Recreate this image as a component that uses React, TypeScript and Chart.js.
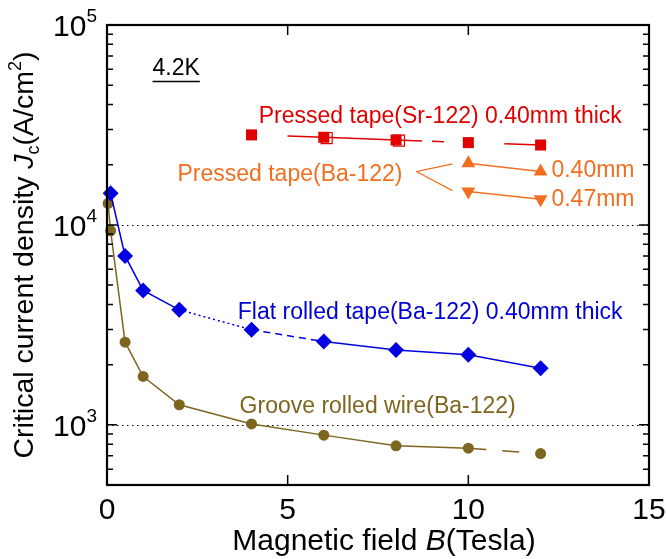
import { useEffect, useRef } from 'react';
import { Chart, registerables } from 'chart.js';
Chart.register(...registerables);

// ---- data (B in Tesla, Jc in A/cm^2) ----
const flatB = [0.1, 0.5, 1, 2, 4, 6, 8, 10, 12];
const flatJc = [14400, 7000, 4700, 3760, 2990, 2610, 2370, 2240, 1920];

const grooveB = [0.03, 0.1, 0.5, 1, 2, 4, 6, 8, 10, 12];
const grooveJc = [12800, 9350, 2590, 1745, 1260, 1010, 888, 785, 764, 718];

const srB = [4, 6, 8, 10, 12];
const srJc = [28200, 27450, 26600, 25800, 25100];
const srOpenB = [6.08, 8.08];
const srOpenJc = [27200, 26400];

const ba040B = [10, 12];
const ba040Jc = [20350, 18490];
const ba047B = [10, 12];
const ba047Jc = [14680, 13440];

// leader lines from the "Pressed tape(Ba-122)" label
const leaderB = [8.56, 9.56];
const leaderUpJc = [18480, 20180];
const leaderDownJc = [18480, 14840];

// axis ticks
const xTickValues = [0, 5, 10, 15];
const xTickLabels = ['0', '5', '10', '15'];
const yTickValues = [1000, 10000, 100000];
const yTickExps = ['3', '4', '5'];
const yGridValues = [1000, 10000];

// in-plot text annotations (positions in data units)
const noteTexts = [
  'Pressed tape(Sr-122) 0.40mm thick',
  'Pressed tape(Ba-122)',
  '0.40mm',
  '0.47mm',
  'Flat rolled tape(Ba-122) 0.40mm thick',
  'Groove rolled wire(Ba-122)',
];
const noteB = [4.2, 1.95, 12.3, 12.3, 3.62, 3.67];
const noteJc = [34670, 17780, 18620, 13410, 3651, 1237];
const noteColors = ['#e00000', '#f07020', '#f07020', '#f07020', '#0000d8', '#7d6620'];

const tempText = '4.2K';
const tempB = 1.26;
const tempJc = 60260;

const RED = '#e00000';
const ORANGE = '#f07020';
const BLUE = '#0000e0';
const OLIVE = '#7d6620';
const FONT = '"Liberation Sans", Arial, Helvetica, sans-serif';

type Part = { text: string; font: string; dy?: number };
function drawRich(ctx: CanvasRenderingContext2D, parts: Part[], x: number, y: number, align: 'left' | 'center' | 'right') {
  let total = 0;
  for (const p of parts) {
    ctx.font = p.font;
    total += ctx.measureText(p.text).width;
  }
  let cx = align === 'center' ? x - total / 2 : align === 'right' ? x - total : x;
  ctx.textAlign = 'left';
  ctx.textBaseline = 'alphabetic';
  for (const p of parts) {
    ctx.font = p.font;
    ctx.fillText(p.text, cx, y + (p.dy || 0));
    cx += ctx.measureText(p.text).width;
  }
}

const pts = (xs: number[], ys: number[]) => xs.map((x, i) => ({ x, y: ys[i] }));
const dashBy = (patterns: Record<number, number[]>) => ({
  borderDash: (c: any) => patterns[c.p0DataIndex] ?? [],
});

const decor = {
  id: 'decor',
  beforeDatasetsDraw(chart: any) {
    const { ctx, chartArea, scales } = chart;
    const y = scales.y;
    ctx.save();
    ctx.strokeStyle = '#000';
    ctx.lineWidth = 1.2;
    ctx.setLineDash([1.5, 3.5]);
    for (const v of yGridValues) {
      const py = Math.round(y.getPixelForValue(v)) + 0.5;
      ctx.beginPath();
      ctx.moveTo(chartArea.left, py);
      ctx.lineTo(chartArea.right, py);
      ctx.stroke();
    }
    ctx.restore();
  },
  afterDatasetsDraw(chart: any) {
    const { ctx, chartArea, scales } = chart;
    const { left, right, top, bottom } = chartArea;
    const xs = scales.x;
    const ys = scales.y;
    ctx.save();
    ctx.strokeStyle = '#000';
    ctx.lineWidth = 1.5;
    ctx.setLineDash([]);
    // y ticks (inward, both sides)
    const ymin = ys.min, ymax = ys.max;
    for (let n = 2; n <= 5; n++) {
      for (let k = 1; k <= 9; k++) {
        const v = k * Math.pow(10, n);
        if (v < ymin * 0.999 || v > ymax * 1.001) continue;
        const py = ys.getPixelForValue(v);
        const len = k === 1 ? 10 : 6;
        ctx.beginPath();
        ctx.moveTo(left, py);
        ctx.lineTo(left + len, py);
        ctx.moveTo(right, py);
        ctx.lineTo(right - len, py);
        ctx.stroke();
      }
    }
    // x ticks (inward, top and bottom)
    for (const v of xTickValues) {
      const px = xs.getPixelForValue(v);
      ctx.beginPath();
      ctx.moveTo(px, bottom);
      ctx.lineTo(px, bottom - 10);
      ctx.moveTo(px, top);
      ctx.lineTo(px, top + 10);
      ctx.stroke();
    }
    // frame
    ctx.lineWidth = 2.2;
    ctx.strokeRect(left, top, right - left, bottom - top);

    // tick labels
    ctx.fillStyle = '#000';
    ctx.font = `30px ${FONT}`;
    ctx.textAlign = 'center';
    ctx.textBaseline = 'alphabetic';
    xTickValues.forEach((v, i) => {
      ctx.fillText(xTickLabels[i], xs.getPixelForValue(v), bottom + 34);
    });
    yTickValues.forEach((v, i) => {
      const py = ys.getPixelForValue(v);
      drawRich(ctx, [
        { text: '10', font: `30px ${FONT}` },
        { text: yTickExps[i], font: `19px ${FONT}`, dy: -14 },
      ], left - 10, py + 11, 'right');
    });

    // axis titles
    drawRich(ctx, [
      { text: 'Magnetic field ', font: `30px ${FONT}` },
      { text: 'B', font: `italic 30px ${FONT}` },
      { text: '(Tesla)', font: `30px ${FONT}` },
    ], 384, 550, 'center');

    ctx.save();
    ctx.translate(23, 255);
    ctx.rotate(-Math.PI / 2);
    drawRich(ctx, [
      { text: 'Critical current density ', font: `28.5px ${FONT}` },
      { text: 'J', font: `italic 28.5px ${FONT}` },
      { text: 'c', font: `18px ${FONT}`, dy: 6 },
      { text: '(A/cm', font: `28.5px ${FONT}` },
      { text: '2', font: `18px ${FONT}`, dy: -12 },
      { text: ')', font: `28.5px ${FONT}` },
    ], 0, 10, 'center');
    ctx.restore();

    // annotations
    ctx.font = `23px ${FONT}`;
    ctx.textAlign = 'left';
    ctx.textBaseline = 'middle';
    noteTexts.forEach((t, i) => {
      ctx.fillStyle = noteColors[i];
      ctx.fillText(t, xs.getPixelForValue(noteB[i]), ys.getPixelForValue(noteJc[i]));
    });
    const tx = xs.getPixelForValue(tempB);
    const ty = ys.getPixelForValue(tempJc);
    ctx.fillStyle = '#000';
    ctx.fillText(tempText, tx, ty);
    const w = ctx.measureText(tempText).width;
    ctx.lineWidth = 1.5;
    ctx.beginPath();
    ctx.moveTo(tx, ty + 12.5);
    ctx.lineTo(tx + w, ty + 12.5);
    ctx.stroke();
    ctx.restore();
  },
};

export default function App() {
  const ref = useRef<HTMLCanvasElement>(null);
  useEffect(() => {
    document.body.style.margin = '0';
    const canvas = ref.current!;
    const chart = new Chart(canvas, {
      type: 'line',
      data: {
        datasets: [
          {
            label: 'Pressed tape(Sr-122) open',
            data: pts(srOpenB, srOpenJc),
            showLine: false,
            pointStyle: 'rect',
            pointRadius: 7.8,
            pointBackgroundColor: 'rgba(0,0,0,0)',
            pointBorderColor: RED,
            pointBorderWidth: 1.2,
            clip: false,
          } as any,
          {
            label: 'Pressed tape(Sr-122)',
            data: pts(srB, srJc),
            borderColor: RED,
            borderWidth: 1.5,
            pointStyle: 'rect',
            pointRadius: 7.8,
            pointBackgroundColor: RED,
            pointBorderColor: RED,
            pointBorderWidth: 0,
            segment: dashBy({ 0: [0, 36, 200], 2: [26, 10, 12, 200], 3: [0, 36, 200] }),
            clip: false,
          } as any,
          {
            label: 'Ba-122 0.40mm',
            data: pts(ba040B, ba040Jc),
            borderColor: ORANGE,
            borderWidth: 1.5,
            pointStyle: 'triangle',
            pointRadius: 8,
            pointBackgroundColor: ORANGE,
            pointBorderColor: ORANGE,
            pointBorderWidth: 0,
            clip: false,
          } as any,
          {
            label: 'Ba-122 0.47mm',
            data: pts(ba047B, ba047Jc),
            borderColor: ORANGE,
            borderWidth: 1.5,
            pointStyle: 'triangle',
            pointRotation: 180,
            pointRadius: 8,
            pointBackgroundColor: ORANGE,
            pointBorderColor: ORANGE,
            pointBorderWidth: 0,
            clip: false,
          } as any,
          {
            label: 'leader up',
            data: pts(leaderB, leaderUpJc),
            borderColor: ORANGE,
            borderWidth: 1.2,
            pointRadius: 0,
          } as any,
          {
            label: 'leader down',
            data: pts(leaderB, leaderDownJc),
            borderColor: ORANGE,
            borderWidth: 1.2,
            pointRadius: 0,
          } as any,
          {
            label: 'Flat rolled tape(Ba-122)',
            data: pts(flatB, flatJc),
            borderColor: BLUE,
            borderWidth: 1.5,
            pointStyle: 'rectRot',
            pointRadius: 8,
            pointBackgroundColor: BLUE,
            pointBorderColor: BLUE,
            pointBorderWidth: 0,
            segment: dashBy({ 3: [2, 3], 4: [7, 5] }),
            clip: false,
          } as any,
          {
            label: 'Groove rolled wire(Ba-122)',
            data: pts(grooveB, grooveJc),
            borderColor: OLIVE,
            borderWidth: 1.5,
            pointStyle: 'circle',
            pointRadius: 5.5,
            pointBackgroundColor: OLIVE,
            pointBorderColor: OLIVE,
            pointBorderWidth: 0,
            segment: dashBy({ 8: [18, 16, 17, 200] }),
            clip: false,
          } as any,
        ],
      },
      options: {
        responsive: false,
        animation: false,
        devicePixelRatio: 1,
        layout: { padding: { left: 107, top: 25, right: 17, bottom: 74 } },
        elements: { line: { tension: 0 } },
        plugins: { legend: { display: false }, tooltip: { enabled: false } },
        scales: {
          x: {
            type: 'linear',
            min: 0,
            max: 15,
            ticks: { display: false },
            grid: { display: false, drawTicks: false },
            border: { display: false },
          },
          y: {
            type: 'logarithmic',
            min: 500,
            max: 100000,
            ticks: { display: false },
            grid: { display: false, drawTicks: false },
            border: { display: false },
          },
        },
      },
      plugins: [decor],
    });
    return () => chart.destroy();
  }, []);
  return <canvas ref={ref} width={666} height={559} style={{ display: 'block' }} />;
}
